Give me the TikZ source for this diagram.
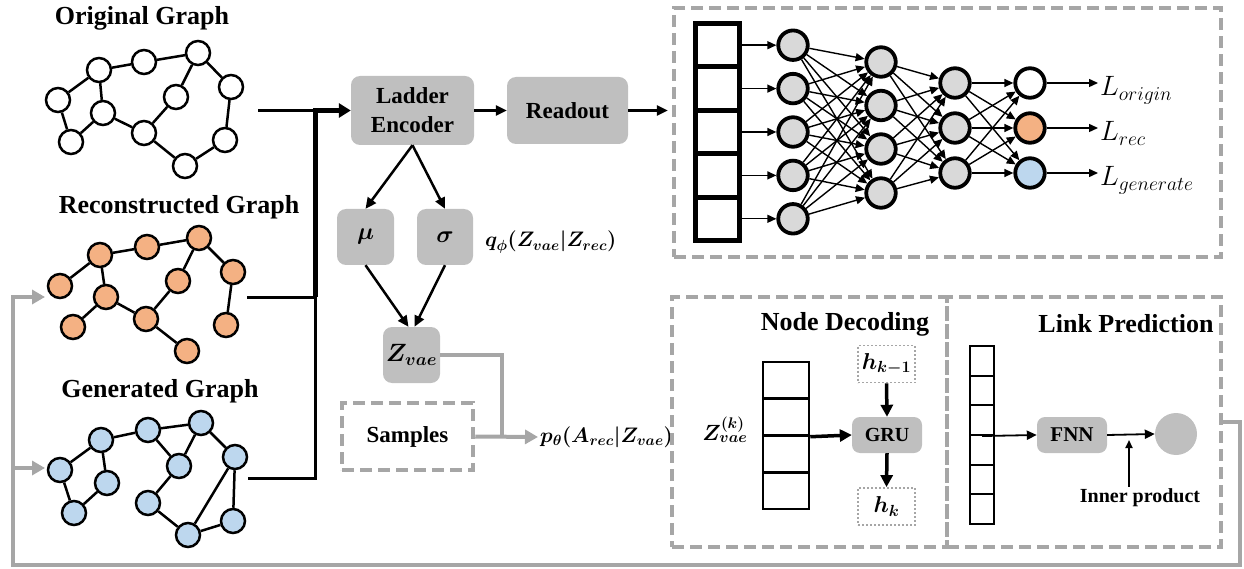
\documentclass[tikz,border=0pt]{standalone}
\usepackage{fix-cm}
\usepackage{amsmath}
\usepackage{bm}
\usepackage{fontspec}
\setmainfont{Liberation Serif}
\usetikzlibrary{arrows.meta,calc}

\definecolor{boxgray}{RGB}{191,191,191}
\definecolor{nodegray}{RGB}{217,217,217}
\definecolor{dashgray}{RGB}{166,166,166}
\definecolor{nodeorange}{RGB}{244,177,131}
\definecolor{nodeblue}{RGB}{189,215,238}

\newcommand{\fsz}[2]{\fontsize{#1}{#2}\selectfont}

\tikzset{
  every node/.style={inner sep=2pt},
  title/.style={font=\fsz{26}{30}\bfseries},
  gnode/.style={circle, draw, line width=2.5pt, minimum size=24pt, inner sep=0pt},
  gedge/.style={line width=2.5pt},
  gbox/.style={rounded corners=9pt, fill=boxgray, inner sep=0pt, font=\fsz{23}{29}\bfseries, align=center},
  nnode/.style={circle, draw, line width=3.8pt, minimum size=29.5pt, inner sep=0pt, fill=nodegray},
  incell/.style={draw, line width=5pt, minimum width=44pt, minimum height=43.4pt, inner sep=0pt},
  narrow/.style={line width=1.4pt, -{Triangle[length=9pt,width=8pt]}},
  barrow/.style={line width=2.5pt, -{Triangle[length=11pt,width=10pt]}},
  tarrow/.style={line width=3.5pt, -{Triangle[length=12pt,width=12pt]}},
  dbox/.style={draw=dashgray, line width=4.5pt, dash pattern=on 12pt off 6pt, inner sep=0pt},
  dotbox/.style={draw=dashgray, line width=1.8pt, dash pattern=on 2pt off 2pt, inner sep=0pt,
                 minimum width=57pt, minimum height=37pt},
  gline/.style={draw=dashgray, line width=4pt},
  garrow/.style={draw=dashgray, line width=4pt, -{Triangle[length=13pt,width=14pt]}},
}

\begin{document}
\begin{tikzpicture}[x=1pt,y=-1pt]
\useasboundingbox (0,0) rectangle (1244,569);

% ---------- input graphs ----------
\node[title] (t-orig) at (142,18) {Original Graph};
\node[title] (t-rec) at (179,207) {Reconstructed Graph};
\node[title] (t-gen) at (160,391) {Generated Graph};

\foreach \n/\x/\y in {1/58/100, 2/99/70, 3/144/62, 4/198/53, 5/231/87, 6/176/97,
                      7/103/113, 8/71/142, 9/144/133, 10/225/140, 11/185/166}
  \node[gnode, fill=white] (o\n) at (\x,\y) {};
\foreach \a/\b in {1/2, 2/3, 3/4, 4/5, 4/6, 2/7, 1/8, 8/7, 7/9, 6/9, 9/11, 11/10, 10/5}
  \draw[gedge] (o\a) -- (o\b);

\foreach \n/\x/\y in {1/60/286, 2/100/255, 3/147/247, 4/199/238, 5/233/272, 6/178/281,
                      7/106/297, 8/73/327, 9/146/319, 10/226/325, 11/187/351}
  \node[gnode, fill=nodeorange] (r\n) at (\x,\y) {};
\foreach \a/\b in {1/2, 2/3, 3/4, 4/5, 4/6, 2/7, 8/7, 7/9, 6/9, 9/11, 5/10}
  \draw[gedge] (r\a) -- (r\b);

\foreach \n/\x/\y in {1/60/470, 2/101/440, 3/148/430, 4/201/423, 5/235/457, 6/179/466,
                      7/107/483, 8/74/513, 9/148/503, 10/233/521, 11/188/535}
  \node[gnode, fill=nodeblue] (g\n) at (\x,\y) {};
\foreach \a/\b in {1/2, 2/3, 3/4, 4/5, 3/6, 4/6, 2/7, 1/8, 8/7, 6/9, 9/11, 11/5, 5/10, 11/10}
  \draw[gedge] (g\a) -- (g\b);

% ---------- encoder branch ----------
\node[gbox, minimum width=123pt, minimum height=69pt] (enc) at (412.5,110.5) {Ladder\\Encoder};
\node[gbox, minimum width=121pt, minimum height=67pt] (readout) at (567.5,110.5) {Readout};
\node[gbox, minimum width=57pt, minimum height=56pt, font=\fsz{24}{28}] (mu) at (365.5,237) {$\bm{\mu}$};
\node[gbox, minimum width=56pt, minimum height=56pt, font=\fsz{24}{28}] (sigma) at (445,237) {$\bm{\sigma}$};
\node[gbox, minimum width=57pt, minimum height=56pt, font=\fsz{25}{28}] (zvae) at (411.5,355) {$\bm{Z_{vae}}$};
\node[dbox, minimum width=131pt, minimum height=67pt, font=\fsz{23}{28}\bfseries] (samples) at (407.5,436.5) {Samples};
\node[anchor=west, font=\fsz{21}{25}] (qlabel) at (483,242) {$\bm{q_{\phi}(Z_{vae}|Z_{rec})}$};
\node[anchor=west, font=\fsz{21}{25}] (plabel) at (538,437) {$\bm{p_{\theta}(A_{rec}|Z_{vae})}$};

% graphs feed the encoder
\coordinate (o-out) at (258,111);
\coordinate (r-out) at (247,297);
\coordinate (g-out) at (248,478);
\coordinate (bus) at (315,297);
\draw[line width=3pt] (o-out) -- (bus |- o-out);
\draw[line width=3pt] (r-out) -- (bus);
\draw[line width=3pt] (g-out) -| (bus);
\draw[line width=5pt, -{Triangle[length=12pt,width=14pt]}] (bus) |- (enc.west);

\draw[barrow] (enc.east) -- (readout.west);
\draw[barrow] (enc.south) -- (mu.north);
\draw[barrow] (enc.south) -- (sigma.north);
\draw[barrow] (mu.south) -- ($(zvae.north)+(-3,0)$);
\draw[barrow] (sigma.south) -- ($(zvae.north)+(3,0)$);

\coordinate (join) at (502,437);
\draw[gline] (zvae.east) -| (join);
\draw[garrow] (samples.east) -- (plabel.west);

% ---------- readout network ----------
\node[dbox, minimum width=547pt, minimum height=249pt] (nn-box) at (947.5,132.5) {};
\draw[barrow, shorten >=4pt] (readout.east) -- (readout.east -| nn-box.west);

\foreach \i/\y in {1/45.2, 2/88.6, 3/132, 4/175.4, 5/218.8} {
  \node[incell] (k\i) at (717.5,\y) {};
  \node[nnode] (a\i) at (793,\y) {};
}
\foreach \i/\y in {1/62, 2/105.5, 3/149, 4/193}
  \node[nnode] (b\i) at (881,\y) {};
\foreach \i/\y/\c in {1/83/white, 2/128/nodeorange, 3/173/nodeblue} {
  \node[nnode] (c\i) at (955,\y) {};
  \node[nnode, fill=\c] (d\i) at (1030,\y) {};
}
\foreach \i in {1,...,5} \draw[narrow] (k\i.east) -- (a\i);
\foreach \i in {1,...,5} \foreach \j in {1,...,4} \draw[narrow] (a\i) -- (b\j);
\foreach \i in {1,...,4} \foreach \j in {1,...,3} \draw[narrow] (b\i) -- (c\j);
\foreach \i in {1,...,3} \foreach \j in {1,...,3} \draw[narrow] (c\i) -- (d\j);

\node[anchor=base west, font=\fsz{28}{32}] (lorig) at (1098,96) {$L_{origin}$};
\node[anchor=base west, font=\fsz{28}{32}] (lrec) at (1098,141) {$L_{rec}$};
\node[anchor=base west, font=\fsz{28}{32}] (lgen) at (1098,186) {$L_{generate}$};
\draw[narrow] (d1.east) -- (d1 -| lorig.west);
\draw[narrow] (d2.east) -- (d2 -| lrec.west);
\draw[narrow] (d3.east) -- (d3 -| lgen.west);

% ---------- node decoding ----------
\node[dbox, minimum width=275pt, minimum height=250pt] (nd-box) at (809.5,422) {};
\node[title] (t-nd) at (845,324) {Node Decoding};
\foreach \i/\y in {1/380.4, 2/417.1, 3/453.9, 4/490.6}
  \node[draw, line width=2.5pt, minimum width=46pt, minimum height=36.75pt, inner sep=0pt] (z\i) at (786,\y) {};
\node[font=\fsz{22}{26}] (zlabel) at (725,430) {$\bm{Z_{vae}^{(k)}}$};
\node[gbox, minimum width=70pt, minimum height=36pt, rounded corners=8pt, font=\fsz{20}{24}\bfseries] (gru) at (887,435) {GRU};
\node[dotbox, font=\fsz{23}{26}] (hprev) at (886.5,364) {$\bm{h_{k-1}}$};
\node[dotbox, font=\fsz{23}{26}] (hk) at (886.5,506.5) {$\bm{h_{k}}$};
\draw[tarrow] (z2.south east) -- (gru.west);
\draw[tarrow] (hprev.south) -- (gru.north);
\draw[tarrow] (gru.south) -- (hk.north);

% ---------- link prediction ----------
\node[dbox, minimum width=274pt, minimum height=250pt] (lp-box) at (1084,422) {};
\node[title] (t-lp) at (1126,324) {Link Prediction};
\foreach \i/\y in {1/360.8, 2/390.5, 3/420.2, 4/449.8, 5/479.5, 6/509.2}
  \node[draw, line width=2pt, minimum width=24pt, minimum height=29.67pt, inner sep=0pt] (l\i) at (982,\y) {};
\node[gbox, minimum width=70pt, minimum height=36pt, rounded corners=8pt, font=\fsz{21}{24}\bfseries] (fnn) at (1072,435) {FNN};
\node[circle, fill=boxgray, minimum size=42pt, inner sep=0pt] (score) at (1176,434) {};
\node[font=\fsz{20}{24}\bfseries] (ip) at (1140,498) {Inner product};
\draw[line width=1.8pt, -{Triangle[length=10pt,width=9pt]}] (l3.south) -- (fnn.west);
\draw[line width=1.8pt, -{Triangle[length=10pt,width=9pt]}] (fnn.east) -- (score.west);
\coordinate (ip-tip) at (1129,440);
\draw[line width=1.8pt, -{Triangle[length=8pt,width=7pt]}] (ip.north -| ip-tip) -- (ip-tip);

% ---------- feedback to the input graphs ----------
\coordinate (fb-corner) at (13,565);
\coordinate (fb-rec) at (45,297);
\coordinate (fb-branch) at (13,468);
\coordinate (fb-gen) at (45,468);
\draw[garrow] (lp-box.east) -- ++(17,0) |- (fb-corner) |- (fb-rec);
\draw[garrow] (fb-branch) -- (fb-gen);
\end{tikzpicture}
\end{document}
